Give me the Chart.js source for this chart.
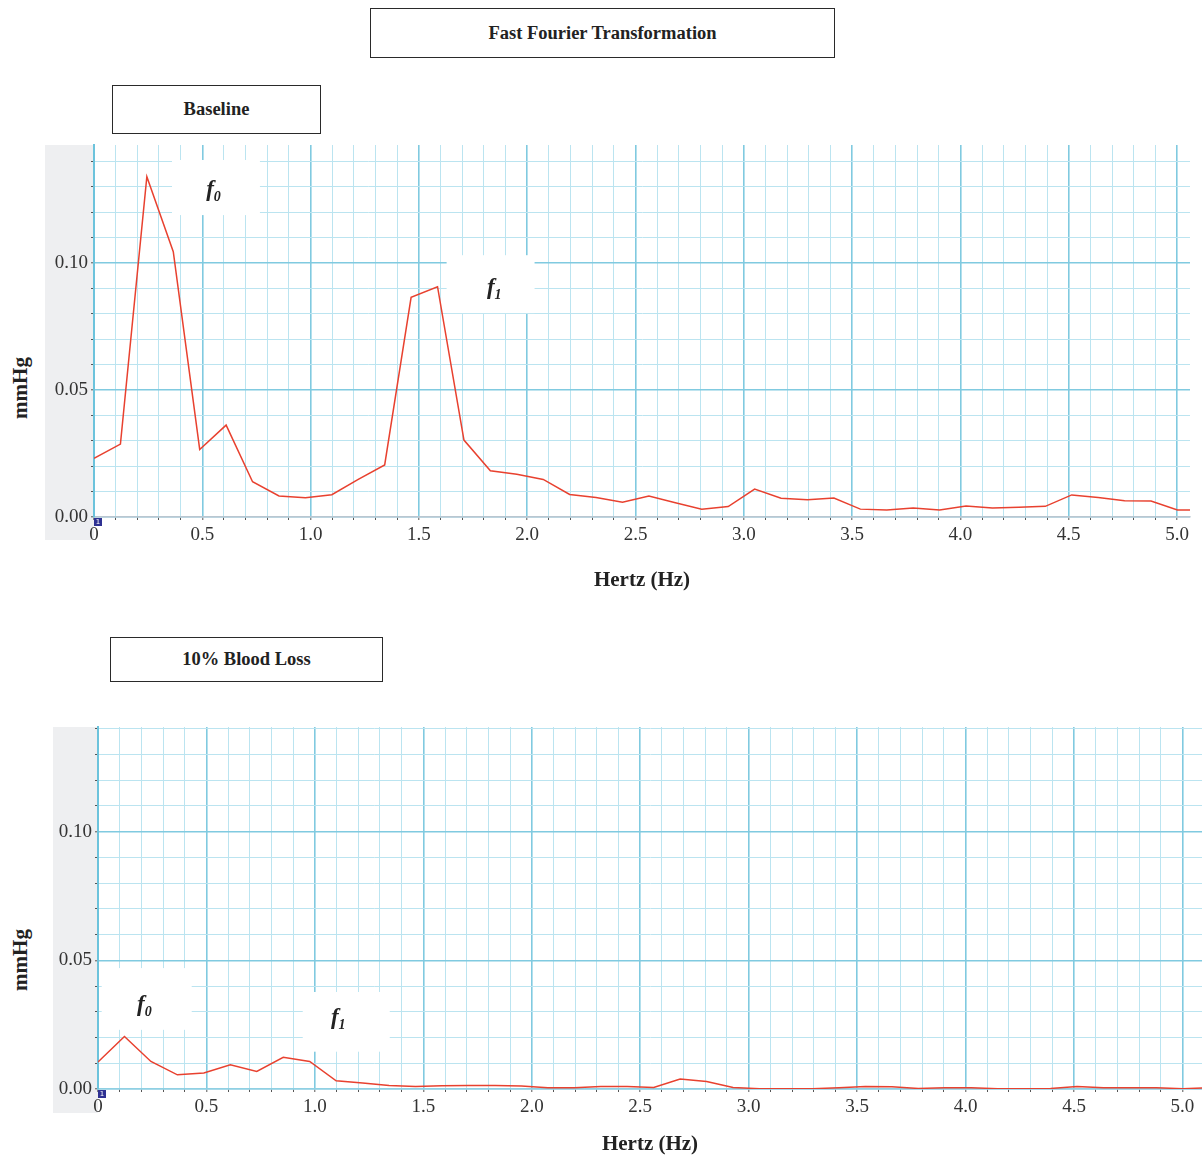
<!DOCTYPE html>
<html>
<head>
<meta charset="utf-8">
<script src="https://cdn.jsdelivr.net/npm/chart.js@4/dist/chart.umd.min.js"></script>
<style>
  body { margin: 0; background: #fff; width: 1202px; height: 1158px; position: relative; overflow: hidden; }
  .box { position: absolute; box-sizing: border-box; border: 1px solid #2a2a2a; display: flex; align-items: center; justify-content: center;
         font: bold 18.5px "Liberation Serif", serif; color: #222; }
  .ytitle { position: absolute; font: bold 21px "Liberation Serif", serif; color: #222; transform: translate(-50%, -50%) rotate(-90deg); white-space: nowrap; }
  canvas { position: absolute; left: 0; }
</style>
</head>
<body>
<div class="box" style="left:370px; top:8px; width:465px; height:50px;">Fast Fourier Transformation</div>
<div class="box" style="left:112px; top:85px; width:209px; height:49px;">Baseline</div>
<div class="box" style="left:110px; top:637px; width:273px; height:45px;">10% Blood Loss</div>
<div class="ytitle" style="left:20px; top:388px;">mmHg</div>
<div class="ytitle" style="left:20px; top:960px;">mmHg</div>

<canvas id="topChart" width="1202" height="460" style="top:140px;"></canvas>
<canvas id="bottomChart" width="1202" height="440" style="top:720px;"></canvas>

<script>
// frequency bins (Hz)
const freqHz = [0, 0.122, 0.244, 0.366, 0.488, 0.61, 0.732, 0.854, 0.976, 1.098,
  1.22, 1.342, 1.464, 1.586, 1.708, 1.83, 1.952, 2.074, 2.196, 2.318,
  2.44, 2.562, 2.684, 2.806, 2.928, 3.05, 3.172, 3.294, 3.416, 3.538,
  3.66, 3.782, 3.904, 4.026, 4.148, 4.27, 4.392, 4.514, 4.636, 4.758,
  4.88, 5.002, 5.124];

// amplitude (mmHg) - baseline
const baselineMmHg = [0.0231, 0.0287, 0.134, 0.1045, 0.0266, 0.0362, 0.0139, 0.0083, 0.0076, 0.0088,
  0.0148, 0.0205, 0.0865, 0.0907, 0.0303, 0.0182, 0.0168, 0.0148, 0.0089, 0.0077,
  0.0058, 0.0083, 0.0056, 0.0031, 0.0041, 0.011, 0.0074, 0.0068, 0.0075, 0.0031,
  0.0028, 0.0035, 0.0028, 0.0043, 0.0035, 0.0038, 0.0042, 0.0087, 0.0077, 0.0064,
  0.0063, 0.0028, 0.0028];

// amplitude (mmHg) - 10% blood loss
const bloodLossMmHg = [0.0105, 0.0204, 0.0107, 0.0055, 0.0062, 0.0094, 0.0068, 0.0123, 0.0107, 0.0032,
  0.0023, 0.0014, 0.001, 0.0013, 0.0014, 0.0014, 0.0012, 0.0005, 0.0005, 0.001,
  0.001, 0.0006, 0.0039, 0.0029, 0.0006, 0.0001, 0.0001, 0.0001, 0.0005, 0.001,
  0.0009, 0.0002, 0.0005, 0.0005, 0.0001, 0.0001, 0.0002, 0.001, 0.0005, 0.0005,
  0.0005, 0.0001, 0.0005];

// peak labels: [text, subscript, x (Hz), y (mmHg), box x0, x1, y0, y1]
const topPeaks = [
  ['f', '0', 0.544, 0.1287, 0.36, 0.766, 0.1406, 0.1189],
  ['f', '1', 1.84, 0.0902, 1.628, 2.034, 0.1031, 0.0803]
];
const bottomPeaks = [
  ['f', '0', 0.206, 0.0327, 0.017, 0.432, 0.047, 0.023],
  ['f', '1', 1.10, 0.0276, 0.944, 1.345, 0.0377, 0.0145]
];

const majorGrid = '#80cae0';
const minorGrid = '#bbe4f0';
const lineRed = '#e8412f';

function xLabel(v) {
  const t = Math.round(v * 10);
  if (t % 5 !== 0) return '';
  return t === 0 ? '0' : (t / 10).toFixed(1);
}
function yLabel(v) {
  const t = Math.round(v * 100);
  return t % 5 === 0 ? (t / 100).toFixed(2) : '';
}

function makeChart(id, values, opts) {
  const points = freqHz.map((f, i) => ({ x: f, y: values[i] }));

  const decor = {
    id: 'decor',
    beforeDraw(chart) {
      const { ctx, chartArea } = chart;
      ctx.save();
      ctx.fillStyle = '#eeeff1';
      ctx.fillRect(chartArea.left - opts.panelW, chartArea.top, opts.panelW, chartArea.bottom - chartArea.top + opts.panelBelow);
      ctx.restore();
    },
    beforeDatasetsDraw(chart) {
      const { ctx } = chart;
      const xs = chart.scales.x, ys = chart.scales.y;
      ctx.save();
      opts.peaks.forEach(p => {
        const x0 = xs.getPixelForValue(p[4]), x1 = xs.getPixelForValue(p[5]);
        const y0 = ys.getPixelForValue(p[6]), y1 = ys.getPixelForValue(p[7]);
        ctx.fillStyle = '#fff';
        ctx.fillRect(x0, y0, x1 - x0, y1 - y0);
        const tx = xs.getPixelForValue(p[2]), ty = ys.getPixelForValue(p[3]);
        ctx.fillStyle = '#222';
        ctx.textBaseline = 'alphabetic';
        ctx.font = 'italic bold 23px "Liberation Serif"';
        ctx.textAlign = 'right';
        ctx.fillText(p[0], tx + 2, ty + 6);
        ctx.font = 'italic bold 14px "Liberation Serif"';
        ctx.textAlign = 'left';
        ctx.fillText(p[1], tx + 2, ty + 11);
      });
      ctx.restore();
    },
    afterDraw(chart) {
      const { ctx, chartArea } = chart;
      ctx.save();
      ctx.fillStyle = '#2e3192';
      ctx.fillRect(chartArea.left, chartArea.bottom + 1, 8, 8);
      ctx.fillStyle = '#fff';
      ctx.font = '7px "DejaVu Sans"';
      ctx.textAlign = 'center';
      ctx.textBaseline = 'middle';
      ctx.fillText('1', chartArea.left + 4, chartArea.bottom + 5);
      ctx.restore();
    }
  };

  return new Chart(document.getElementById(id), {
    type: 'line',
    data: {
      datasets: [{
        data: points,
        borderColor: lineRed,
        borderWidth: 1.5,
        pointRadius: 0,
        tension: 0,
        fill: false
      }]
    },
    options: {
      responsive: false,
      animation: false,
      devicePixelRatio: 1,
      layout: { padding: opts.padding },
      plugins: { legend: { display: false }, tooltip: { enabled: false } },
      scales: {
        x: {
          type: 'linear',
          min: 0,
          max: opts.xMax,
          afterFit: s => { s.height = opts.xAxisH; s.paddingLeft = 0; s.paddingRight = 0; },
          ticks: {
            stepSize: 0.1,
            includeBounds: false,
            autoSkip: false,
            maxRotation: 0,
            padding: 4,
            color: '#333',
            font: { family: 'Liberation Serif', size: 19 },
            callback: xLabel
          },
          grid: {
            color: c => (c.tick && Math.round(c.tick.value * 10) % 5 === 0) ? majorGrid : minorGrid,
            lineWidth: c => (c.tick && Math.round(c.tick.value * 10) % 5 === 0) ? 1.6 : 1,
            tickColor: '#555',
            tickLength: 3,
            tickWidth: 1
          },
          border: { color: opts.xBorder, width: 1.5 },
          title: {
            display: true,
            text: 'Hertz (Hz)',
            color: '#222',
            font: { family: 'Liberation Serif', size: 21, weight: 'bold' },
            padding: { top: 0, bottom: opts.titlePad }
          }
        },
        y: {
          min: 0,
          max: opts.yMax,
          afterFit: s => { s.width = opts.yAxisW; s.paddingTop = 0; s.paddingBottom = 0; },
          ticks: {
            stepSize: 0.01,
            includeBounds: false,
            autoSkip: false,
            padding: 3,
            color: '#333',
            font: { family: 'Liberation Serif', size: 19 },
            callback: yLabel
          },
          grid: {
            color: c => (c.tick && Math.round(c.tick.value * 100) % 5 === 0) ? majorGrid : minorGrid,
            lineWidth: c => (c.tick && Math.round(c.tick.value * 100) % 5 === 0) ? 1.6 : 1,
            tickColor: '#555',
            tickLength: 3,
            tickWidth: 1
          },
          border: { color: '#6cc3dc', width: 2 }
        }
      }
    },
    plugins: [decor]
  });
}

makeChart('topChart', baselineMmHg, {
  padding: { top: 5, right: 12, left: 0, bottom: 0 },
  xMax: 5.06, yMax: 0.1465,
  xAxisH: 83, yAxisW: 94, titlePad: 7,
  panelW: 49, panelBelow: 23,
  xBorder: '#b9c6d0',
  peaks: topPeaks
});

makeChart('bottomChart', bloodLossMmHg, {
  padding: { top: 7, right: 0, left: 0, bottom: 0 },
  xMax: 5.09, yMax: 0.1407,
  xAxisH: 71, yAxisW: 98, titlePad: 3,
  panelW: 45, panelBelow: 24,
  xBorder: '#8fd0e3',
  peaks: bottomPeaks
});
</script>
</body>
</html>
